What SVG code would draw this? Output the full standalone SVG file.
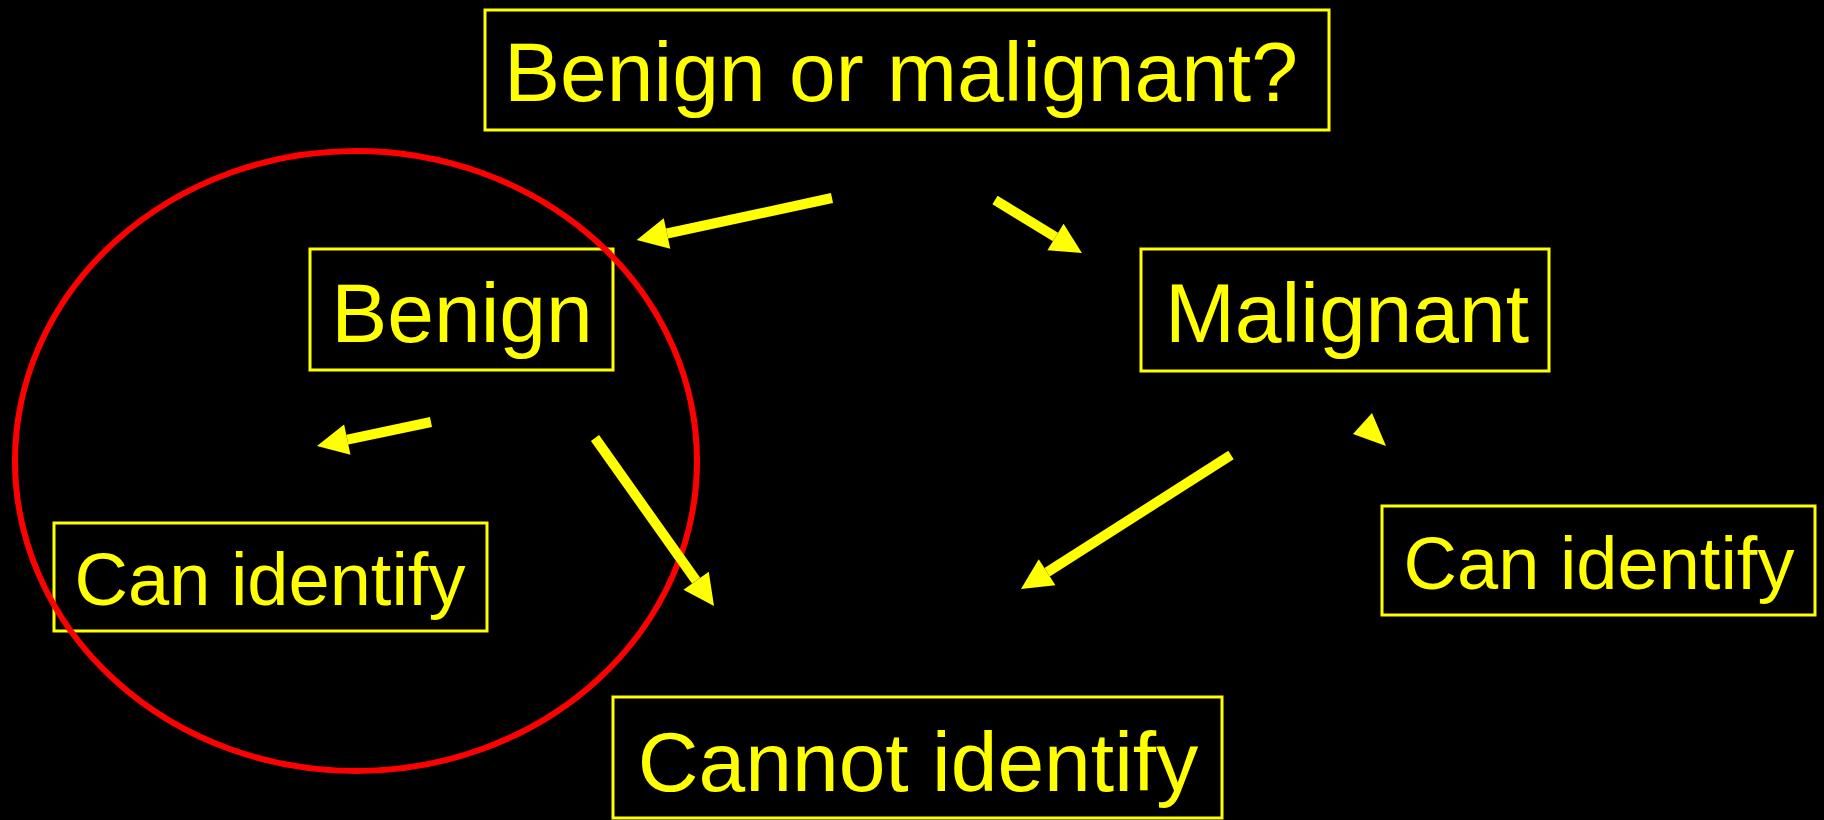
<svg xmlns="http://www.w3.org/2000/svg" width="1824" height="820" viewBox="0 0 1824 820">
<style>
.box{fill:none;stroke:#FFFF00;stroke-width:3}
.lbl{fill:#FFFF00;font-family:"Liberation Sans",Arial,sans-serif;text-anchor:middle}
.big{font-size:84px}
.small{font-size:74px}
.arr{stroke:#FFFF00;stroke-width:10;fill:none;marker-end:url(#head)}
</style>
<defs>
<marker id="head" markerUnits="userSpaceOnUse" markerWidth="32" markerHeight="32" refX="0" refY="15.5" orient="auto" overflow="visible">
<path d="M0,0 L31,15.5 L0,31 Z" fill="#FFFF00"/>
</marker>
</defs>
<rect width="1824" height="820" fill="#000"/>
<g id="node-question">
<rect class="box" x="485" y="10" width="844" height="120"/>
<text class="lbl big" x="901" y="101">Benign or malignant?</text>
</g>
<g id="node-benign">
<rect class="box" x="310" y="249" width="303" height="121"/>
<text class="lbl big" x="462" y="342">Benign</text>
</g>
<g id="node-malignant">
<rect class="box" x="1141" y="249" width="408" height="122"/>
<text class="lbl big" x="1347" y="342">Malignant</text>
</g>
<g id="node-can-identify-left">
<rect class="box" x="54" y="523" width="433" height="108"/>
<text class="lbl small" x="270" y="605">Can identify</text>
</g>
<g id="node-can-identify-right">
<rect class="box" x="1382" y="506" width="433" height="109"/>
<text class="lbl small" x="1599" y="589">Can identify</text>
</g>
<g id="node-cannot-identify">
<rect class="box" x="613" y="697" width="609" height="121"/>
<text class="lbl big" x="918" y="791">Cannot identify</text>
</g>
<g id="highlight">
<ellipse cx="356" cy="461" rx="341" ry="310" fill="none" stroke="#FF0000" stroke-width="6"/>
</g>
<g id="connectors">
<line class="arr" x1="832" y1="198" x2="667" y2="233.5"/>
<line class="arr" x1="995" y1="200" x2="1055.5" y2="236.9"/>
<line class="arr" x1="431" y1="422" x2="347.3" y2="439.6"/>
<line class="arr" x1="595" y1="438" x2="696.1" y2="580.7"/>
<line class="arr" x1="1231" y1="455" x2="1047.1" y2="572.3"/>
<polygon points="1372,413 1353,434 1386,446" fill="#FFFF00"/>
</g>
</svg>
